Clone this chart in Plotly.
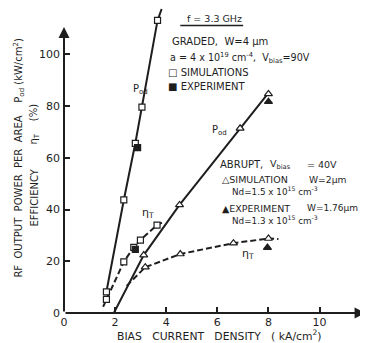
import plotly.graph_objects as go

# ---- data ----
graded_pod_x = [1.66, 2.34, 2.79, 3.05, 3.66, 3.82]
graded_pod_y = [8.2, 43.7, 65.6, 79.6, 113.1, 117.5]
graded_pod_sim_x = [1.66, 2.34, 2.79, 3.05, 3.66]
graded_pod_sim_y = [8.2, 43.7, 65.6, 79.6, 113.1]
graded_pod_exp_x = [2.88]
graded_pod_exp_y = [63.9]

graded_eta_x = [1.53, 1.66, 2.34, 2.73, 2.99, 3.64, 3.83]
graded_eta_y = [2.4, 5.3, 19.8, 25.4, 28.2, 34.0, 34.9]
graded_eta_sim_x = [1.66, 2.34, 2.73, 2.99, 3.64]
graded_eta_sim_y = [5.3, 19.8, 25.4, 28.2, 34.0]
graded_eta_exp_x = [2.79]
graded_eta_exp_y = [24.6]

abrupt_pod_x = [1.95, 2.53, 3.12, 4.52, 6.89, 8.04]
abrupt_pod_y = [0.0, 11.2, 22.4, 41.8, 71.4, 85.6]
abrupt_pod_sim_x = [3.12, 4.52, 6.89, 8.0]
abrupt_pod_sim_y = [22.4, 41.8, 71.4, 84.7]
abrupt_pod_exp_x = [8.0]
abrupt_pod_exp_y = [81.7]

abrupt_eta_x = [2.45, 3.18, 4.55, 6.63, 8.0, 8.39]
abrupt_eta_y = [10.5, 17.7, 22.8, 27.0, 28.8, 28.6]
abrupt_eta_sim_x = [3.18, 4.55, 6.63, 8.0]
abrupt_eta_sim_y = [17.7, 22.8, 27.0, 28.8]
abrupt_eta_exp_x = [7.96]
abrupt_eta_exp_y = [25.3]

x_ticks = [0, 2, 4, 6, 8, 10]
x_tick_labels = ["0", "2", "4", "6", "8", "10"]
y_ticks = [0, 20, 40, 60, 80, 100]
y_tick_labels = ["0", "20", "40", "60", "80", "100"]

INK = "#1e1e1e"
FONT = "DejaVu Sans"

# page offset of the figure inside the html body (default body margin)
OFF = 8
W, H = 368 - OFF, 343 - OFF
AX_X0_PAGE, AX_Y0_PAGE = 63.5, 313.0
PX_PER_X, PX_PER_Y = 25.6, 2.587
L = AX_X0_PAGE - OFF
B = (343 - AX_Y0_PAGE)
T, R = 0, 0
pw, ph = W - L - R, H - T - B

fig = go.Figure()

def line(x, y, dash):
    fig.add_trace(go.Scatter(x=x, y=y, mode="lines",
                             line=dict(color=INK, width=2, dash=dash),
                             hoverinfo="skip", showlegend=False, cliponaxis=False))

def marks(x, y, symbol, filled, size=6):
    fig.add_trace(go.Scatter(x=x, y=y, mode="markers",
                             marker=dict(symbol=symbol, size=size,
                                         color=INK if filled else "white",
                                         line=dict(color=INK, width=1.2)),
                             showlegend=False, cliponaxis=False))

line(graded_pod_x, graded_pod_y, "solid")
line(graded_eta_x, graded_eta_y, "6px,3px")
line(abrupt_pod_x, abrupt_pod_y, "solid")
line(abrupt_eta_x, abrupt_eta_y, "6px,3px")

marks(graded_pod_sim_x, graded_pod_sim_y, "square", False)
marks(graded_eta_sim_x, graded_eta_sim_y, "square", False)
marks(graded_pod_exp_x, graded_pod_exp_y, "square", True)
marks(graded_eta_exp_x, graded_eta_exp_y, "square", True)
marks(abrupt_pod_sim_x, abrupt_pod_sim_y, "triangle-up", False, 7)
marks(abrupt_eta_sim_x, abrupt_eta_sim_y, "triangle-up", False, 7)
marks(abrupt_pod_exp_x, abrupt_pod_exp_y, "triangle-up", True, 7)
marks(abrupt_eta_exp_x, abrupt_eta_exp_y, "triangle-up", True, 7)

ann = []
def ptext(px, py, s, size=9.5, xanchor="left", angle=0):
    """text placed by page pixel position"""
    ann.append(dict(x=(px - AX_X0_PAGE) / pw, y=(AX_Y0_PAGE - py) / ph,
                    xref="paper", yref="paper", text=s, showarrow=False,
                    xanchor=xanchor, yanchor="middle", textangle=angle,
                    font=dict(family=FONT, size=size, color=INK)))

ptext(214, 19, "f = 3.3 GHz", 9.5, "center")
ptext(170, 42, "GRADED,  W=4 μm", 10)
ptext(168, 58, "a = 4 x 10<sup>19</sup> cm<sup>-4</sup>,  V<sub>bias</sub>=90V", 9.6)
ptext(166, 72, "□ SIMULATIONS", 10)
ptext(166, 86, "■ EXPERIMENT", 10)
ptext(140, 89, "P<sub>od</sub>", 10, "center")
ptext(219, 130, "P<sub>od</sub>", 10, "center")
ptext(148, 213, "η<sub>T</sub>", 11, "center")
ptext(248, 254, "η<sub>T</sub>", 11, "center")
ptext(218, 164, "ABRUPT,", 10)
ptext(268, 164, "V<sub>bias</sub>", 9.5)
ptext(305, 164, "= 40V", 9.5)
ptext(220, 179, "△SIMULATION", 9.5)
ptext(307, 179, "W=2μm", 9.2)
ptext(230, 191, "Nd=1.5 x 10<sup>15</sup> cm<sup>-3</sup>", 8.8)
ptext(220, 208, "▲EXPERIMENT", 9.5)
ptext(305, 208, "W=1.76μm", 9)
ptext(230, 220, "Nd=1.3 x 10<sup>15</sup> cm<sup>-3</sup>", 8.8)

# axis titles
ptext(219, 335, "BIAS   CURRENT   DENSITY   ( kA/cm<sup>2</sup>)", 10.8, "center")
ptext(18, 158, "RF  OUTPUT  POWER  PER  AREA    P<sub>od</sub> (kW/cm<sup>2</sup>)", 10, "center", -90)
ptext(33, 198, "EFFICIENCY", 10, "center", -90)
ptext(33, 124, "η<sub>T</sub>    (%)", 10, "center", -90)

# axis arrows
ann.append(dict(x=11.8, y=0, ax=0, ay=0, xref="x", yref="y", axref="x", ayref="y",
                showarrow=True, arrowhead=2, arrowsize=1.1, arrowwidth=2, arrowcolor=INK, text=""))
ann.append(dict(x=0, y=110.6, ax=0, ay=0, xref="x", yref="y", axref="x", ayref="y",
                showarrow=True, arrowhead=2, arrowsize=1.1, arrowwidth=2, arrowcolor=INK, text=""))

# underline of the frequency label
fig.add_shape(type="line", x0=4.55, x1=7.01, y0=111.1, y1=111.1, xref="x", yref="y",
              line=dict(color=INK, width=1.5))

fig.update_layout(
    width=W, height=H,
    margin=dict(l=L, r=R, t=T, b=B, pad=0),
    paper_bgcolor="white", plot_bgcolor="white",
    font=dict(family=FONT, color=INK),
    annotations=ann,
    xaxis=dict(range=[0, pw / PX_PER_X], tickvals=x_ticks, ticktext=x_tick_labels,
               ticks="inside", ticklen=6, tickwidth=1.5, tickcolor=INK,
               showgrid=False, zeroline=False, showline=False, automargin=False,
               ticklabelstandoff=1,
               tickfont=dict(family=FONT, size=11, color=INK)),
    yaxis=dict(range=[0, ph / PX_PER_Y], tickvals=y_ticks, ticktext=y_tick_labels,
               ticks="inside", ticklen=6, tickwidth=1.5, tickcolor=INK,
               showgrid=False, zeroline=False, showline=False, automargin=False,
               ticklabelstandoff=3,
               tickfont=dict(family=FONT, size=11, color=INK)),
)

fig.write_html("out.html")
